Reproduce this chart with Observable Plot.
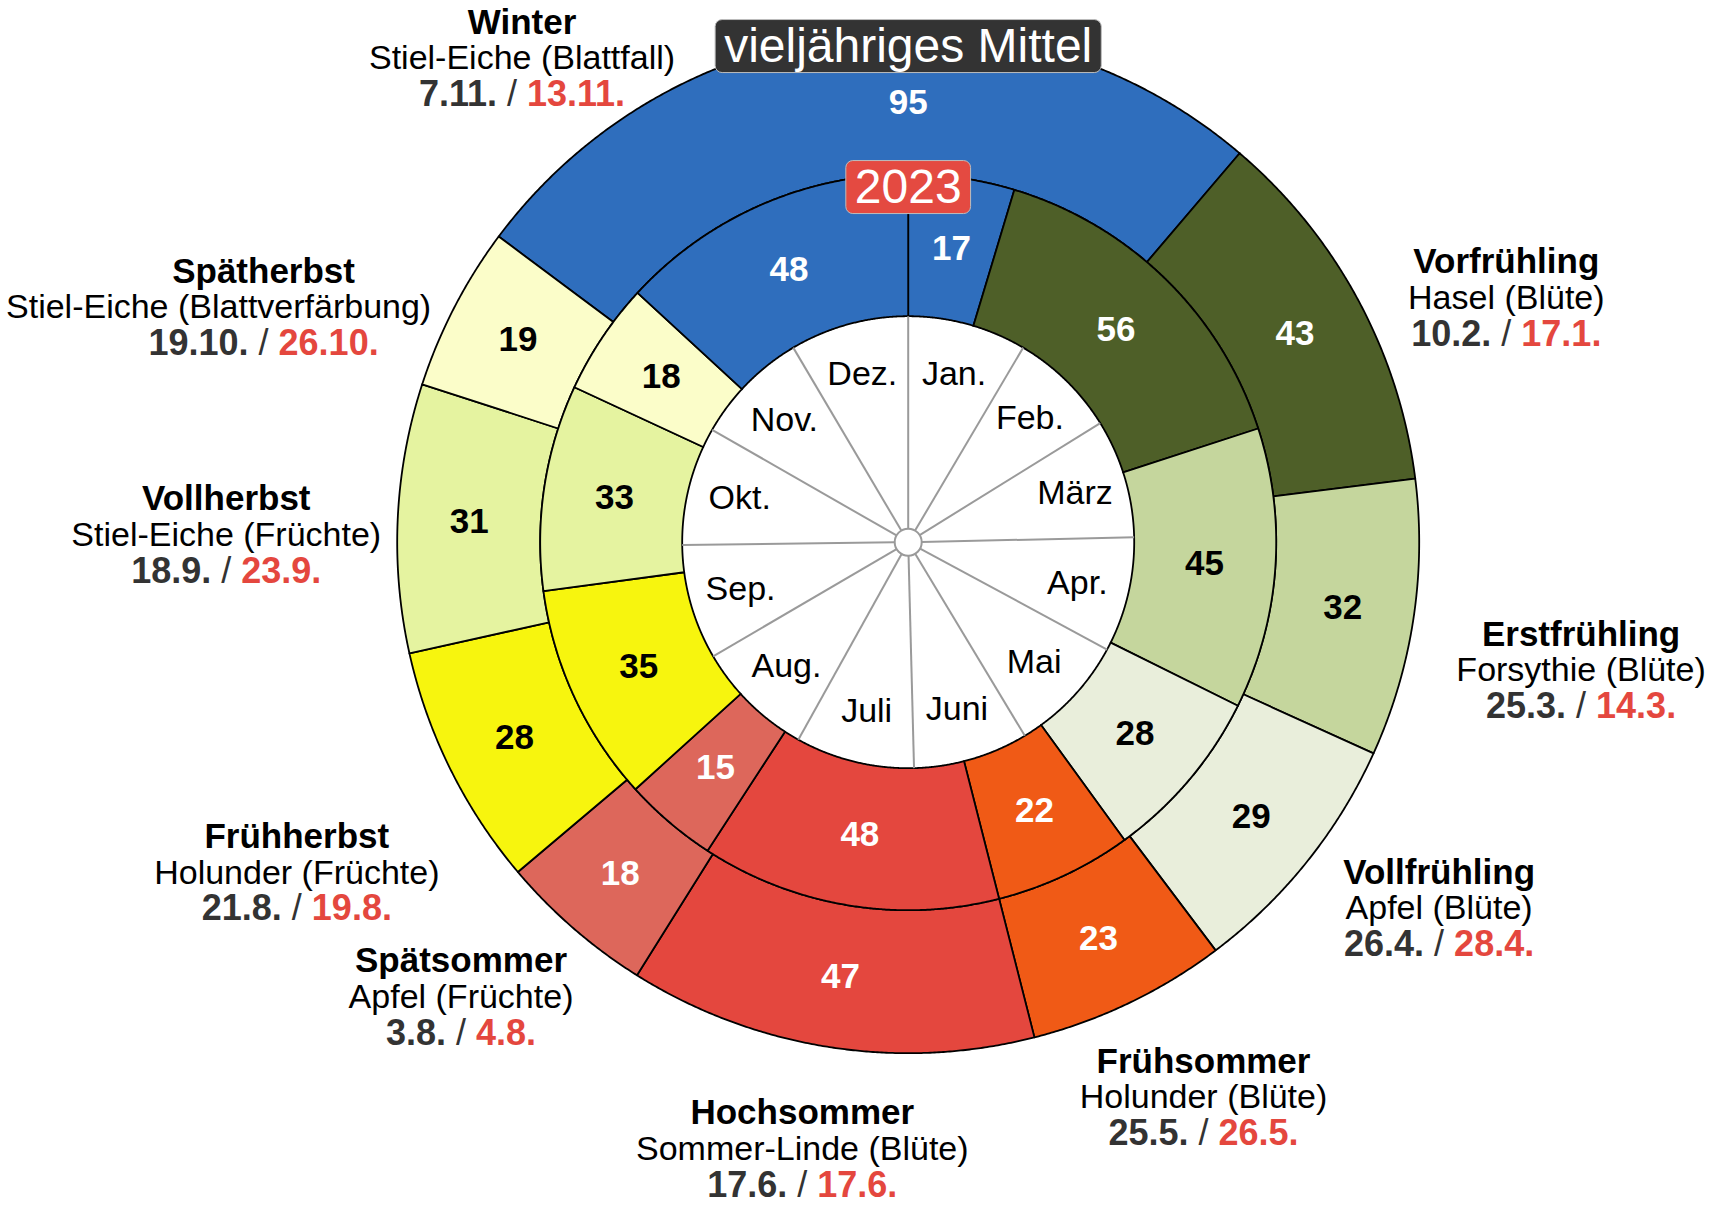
<!DOCTYPE html>
<html><head><meta charset="utf-8">
<script src="https://cdn.jsdelivr.net/npm/d3@7"></script>
<script src="https://cdn.jsdelivr.net/npm/@observablehq/plot@0.6"></script>
<style>
html,body{margin:0;padding:0;background:#fff;overflow:hidden}
#chart{width:1720px;height:1210px}
</style></head><body><div id="chart"></div>
<script>
// ---------- data ----------
const seasons = ["Winter","Vorfrühling","Erstfrühling","Vollfrühling","Frühsommer","Hochsommer","Spätsommer","Frühherbst","Vollherbst","Spätherbst"];
const plants = ["Stiel-Eiche (Blattfall)","Hasel (Blüte)","Forsythie (Blüte)","Apfel (Blüte)","Holunder (Blüte)","Sommer-Linde (Blüte)","Apfel (Früchte)","Holunder (Früchte)","Stiel-Eiche (Früchte)","Stiel-Eiche (Blattverfärbung)"];
const onsetMean = ["7.11.","10.2.","25.3.","26.4.","25.5.","17.6.","3.8.","21.8.","18.9.","19.10."];
const onset2023 = ["13.11.","17.1.","14.3.","28.4.","26.5.","17.6.","4.8.","19.8.","23.9.","26.10."];
const daysMean = [95,43,32,29,23,47,18,28,31,19];
const seasons2023 = ["Winter","Vorfrühling","Erstfrühling","Vollfrühling","Frühsommer","Hochsommer","Spätsommer","Frühherbst","Vollherbst","Spätherbst","Winter"];
const days2023 = [17,56,45,28,22,48,15,35,33,18,48];
const months = ["Jan.","Feb.","März","Apr.","Mai","Juni","Juli","Aug.","Sep.","Okt.","Nov.","Dez."];
const monthDays = [31,28,31,30,31,30,31,31,30,31,30,31];
const ringTitles = ["vieljähriges Mittel","2023"];

// ---------- styles / layout ----------
const seasonColor = {
  "Winter":"#2f6ebd","Vorfrühling":"#4e5f28","Erstfrühling":"#c5d69d","Vollfrühling":"#e9eedb",
  "Frühsommer":"#f05a16","Hochsommer":"#e4473e","Spätsommer":"#dd675b","Frühherbst":"#f7f50e",
  "Vollherbst":"#e5f3a0","Spätherbst":"#fbfdc9"
};
const valueTextColor = {
  "Winter":"#fff","Vorfrühling":"#fff","Erstfrühling":"#000","Vollfrühling":"#000",
  "Frühsommer":"#fff","Hochsommer":"#fff","Spätsommer":"#fff","Frühherbst":"#000",
  "Vollherbst":"#000","Spätherbst":"#000"
};
const RED = "#e4473e", DARK = "#333333";
// label anchor: [angle in degrees clockwise from top, distance from centre]
const labelLayout = [[-38.6,619],[67.8,646],[100.8,685],[124.6,645],[152.0,629],[189.9,616],[224.5,638],[241.6,695],[270.6,682],[290.0,686]];
// horizontal nudge of the plant line (px), to keep it clear of the ring
const plantNudge = [0,0,0,0,0,0,0,0,0,-47];
const ringTitleRadius = [496, 355];
const ringTitleFill = [DARK, "#e44a41"];
const R = {hub:13.5, month:226, inner:368, outer:511, monthLabel:174};
const CX = 907.7, CY = 541.7, W = 1720, H = 1210;
const FONT = "'Liberation Sans', Arial, Helvetica, sans-serif";

// ---------- geometry helpers ----------
const YEAR = 365;
const monthStart = monthDays.map((d,i) => d3.sum(monthDays.slice(0,i)));
function doy(s){ const [d,m] = s.split(".").map(Number); return monthStart[m-1] + d; }
const pt = (r, d) => { const a = d / YEAR * 2 * Math.PI; return {x: r*Math.sin(a), y: r*Math.cos(a)}; };
const ptDeg = (r, deg) => { const a = deg * Math.PI / 180; return {x: r*Math.sin(a), y: r*Math.cos(a)}; };

const segs = [];
seasons.forEach((s,i) => {
  const start = doy(onsetMean[i]), end = start + daysMean[i];
  segs.push({id:"m"+i, season:s, start, end, rIn:R.inner, rOut:R.outer, value:daysMean[i], labelAt: end > YEAR ? YEAR : (start+end)/2});
});
let acc = 0;
seasons2023.forEach((s,j) => {
  const start = acc, end = acc + days2023[j]; acc = end;
  segs.push({id:"y"+j, season:s, start, end, rIn:R.month, rOut:R.inner, value:days2023[j], labelAt:(start+end)/2});
});
const polys = segs.flatMap(g => {
  const n = Math.max(2, Math.ceil((g.end-g.start)*4));
  const ts = d3.range(n+1).map(k => g.start + (g.end-g.start)*k/n);
  const outer = ts.map(t => pt(g.rOut, t));
  const inner = ts.slice().reverse().map(t => pt(g.rIn, t));
  return [...outer, ...inner, outer[0]].map(p => ({...p, id:g.id, color:seasonColor[g.season]}));
});
const valueLabels = segs.map(g => ({...pt((g.rIn+g.rOut)/2, g.labelAt), text:String(g.value), color:valueTextColor[g.season]}));
const monthLines = monthStart.map(d => ({a:pt(R.hub,d), b:pt(R.month,d)}));
const monthLabels = months.map((m,i) => ({...pt(R.monthLabel, monthStart[i] + monthDays[i]/2), text:m}));
const seasonLabels = seasons.map((s,i) => ({...ptDeg(labelLayout[i][1], labelLayout[i][0]), title:s, plant:plants[i], date:onsetMean[i] + " / " + onset2023[i], nudge:plantNudge[i]}));
const titles = ringTitles.map((t,i) => ({...pt(ringTitleRadius[i], 0), text:t}));

const plot = Plot.plot({
  width: W, height: H, margin: 0,
  x: {domain: [-CX, W - CX], axis: null},
  y: {domain: [CY - H, CY], axis: null},
  color: {type: "identity"},
  style: {fontFamily: FONT, background: "#fff"},
  marks: [
    Plot.line(polys, {x:"x", y:"y", z:"id", fill:"color", stroke:"#000", strokeWidth:1.8, strokeLinejoin:"round"}),
    Plot.link(monthLines, {x1:d=>d.a.x, y1:d=>d.a.y, x2:d=>d.b.x, y2:d=>d.b.y, stroke:"#9a9a9a", strokeWidth:2}),
    Plot.dot([pt(0,0)], {x:"x", y:"y", r:R.hub, fill:"#fff", stroke:"#9a9a9a", strokeWidth:2}),
    Plot.text(monthLabels, {x:"x", y:"y", text:"text", fontSize:34, fill:"#000", ariaDescription:"months"}),
    Plot.text(valueLabels, {x:"x", y:"y", text:"text", fill:"color", fontSize:35, fontWeight:"bold", ariaDescription:"values"}),
    Plot.text(seasonLabels, {x:"x", y:"y", text:"title", dy:-36, fontSize:35, fontWeight:"bold", fill:"#000", ariaDescription:"seasontitle"}),
    Plot.text(seasonLabels, {x:d=>d.x + d.nudge, y:"y", text:"plant", fontSize:34, fill:"#000", ariaDescription:"plant"}),
    Plot.text(seasonLabels, {x:"x", y:"y", text:"date", dy:36, fontSize:36, fontWeight:"bold", fill:DARK, ariaDescription:"dates"}),
    Plot.text(titles, {x:"x", y:"y", text:"text", fontSize:48, fill:"#fff", ariaDescription:"ringtitle"})
  ]
});
document.getElementById("chart").append(plot);

// ---------- post-render text styling ----------
const NS = "http://www.w3.org/2000/svg";
const textGroups = Array.from(plot.querySelectorAll('g[aria-label="text"]'));
const groupOrder = ["months","values","seasontitle","plant","dates","ringtitle"];
function texts(name){
  let g = plot.querySelector(`g[aria-description="${name}"]`);
  if (!g) g = textGroups[groupOrder.indexOf(name)];
  return g ? Array.from(g.querySelectorAll("text")) : [];
}
texts("dates").forEach(t => {
  const [a,b] = t.textContent.split(" / ");
  t.textContent = "";
  t.style.whiteSpace = "pre";
  const s1 = document.createElementNS(NS,"tspan"); s1.textContent = a; s1.setAttribute("fill", DARK);
  const s2 = document.createElementNS(NS,"tspan"); s2.textContent = " / "; s2.setAttribute("font-weight","normal"); s2.setAttribute("fill", DARK);
  const s3 = document.createElementNS(NS,"tspan"); s3.textContent = b; s3.setAttribute("fill", RED);
  t.append(s1,s2,s3);
});
texts("ringtitle").forEach((t,i) => {
  const bb = t.getBBox();
  const r = document.createElementNS(NS,"rect");
  const padX = 9, h = 53;
  r.setAttribute("x", bb.x - padX); r.setAttribute("width", bb.width + 2*padX);
  r.setAttribute("y", bb.y + bb.height/2 - h/2 + 1); r.setAttribute("height", h);
  r.setAttribute("rx", 7);
  r.setAttribute("fill", ringTitleFill[i]); r.setAttribute("stroke", "#bdbdbd"); r.setAttribute("stroke-width", 1);
  if (t.getAttribute("transform")) r.setAttribute("transform", t.getAttribute("transform"));
  t.parentNode.insertBefore(r, t);
});
// keep label lines inside the picture
const svgBox = plot.getBoundingClientRect();
[...texts("plant"), ...texts("seasontitle"), ...texts("dates")].forEach(t => {
  const bb = t.getBoundingClientRect();
  const left = bb.left - svgBox.left, right = bb.right - svgBox.left;
  let shift = 0;
  if (left < 6) shift = 6 - left;
  else if (right > W - 6) shift = (W - 6) - right;
  if (shift) t.setAttribute("x", (+t.getAttribute("x") || 0) + shift);
});
</script></body></html>
